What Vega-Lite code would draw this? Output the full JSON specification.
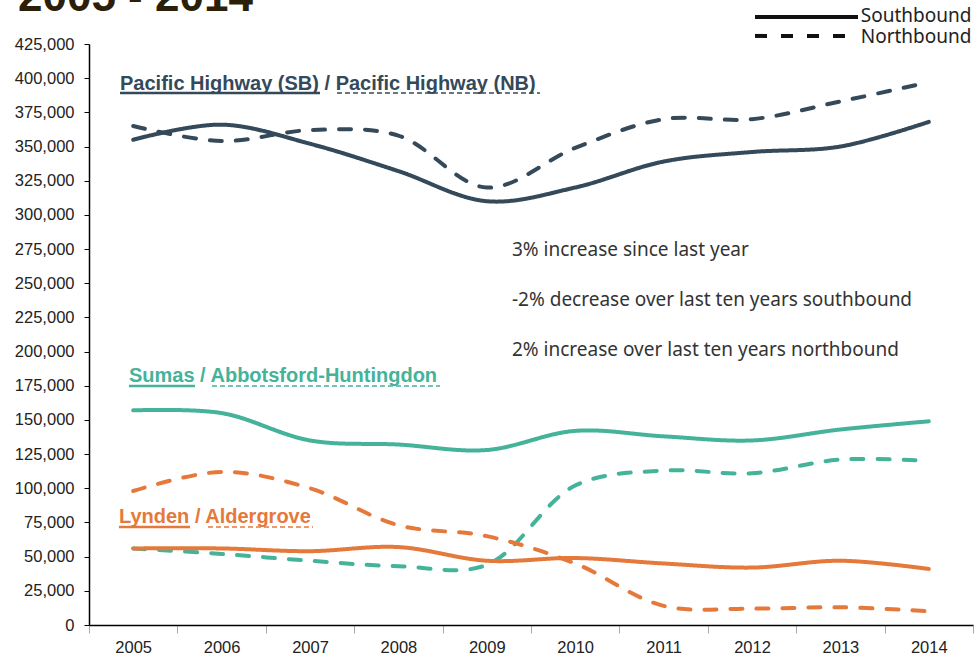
{
  "$schema": "https://vega.github.io/schema/vega-lite/v6.json",
  "width": 884,
  "height": 581,
  "autosize": {"type": "none"},
  "padding": {"left": 89, "top": 44, "right": 1, "bottom": 31},
  "background": "white",
  "title": {"text": "2005 - 2014", "anchor": "start", "frame": "group", "fontSize": 44, "fontWeight": "bold", "font": "Liberation Sans", "color": "#2B1F0A", "dx": -71, "offset": 0, "baseline": "alphabetic", "dy": 48},
  "config": {"view": {"stroke": null}, "axis": {"grid": false}},
  "datasets": {
    "traffic": [
      {"crossing": "Pacific Highway", "direction": "Southbound", "year": 2005, "value": 355000},
      {"crossing": "Pacific Highway", "direction": "Southbound", "year": 2006, "value": 366000},
      {"crossing": "Pacific Highway", "direction": "Southbound", "year": 2007, "value": 352000},
      {"crossing": "Pacific Highway", "direction": "Southbound", "year": 2008, "value": 332000},
      {"crossing": "Pacific Highway", "direction": "Southbound", "year": 2009, "value": 310000},
      {"crossing": "Pacific Highway", "direction": "Southbound", "year": 2010, "value": 320000},
      {"crossing": "Pacific Highway", "direction": "Southbound", "year": 2011, "value": 339000},
      {"crossing": "Pacific Highway", "direction": "Southbound", "year": 2012, "value": 346000},
      {"crossing": "Pacific Highway", "direction": "Southbound", "year": 2013, "value": 350000},
      {"crossing": "Pacific Highway", "direction": "Southbound", "year": 2014, "value": 368000},
      {"crossing": "Pacific Highway", "direction": "Northbound", "year": 2005, "value": 365000},
      {"crossing": "Pacific Highway", "direction": "Northbound", "year": 2006, "value": 354000},
      {"crossing": "Pacific Highway", "direction": "Northbound", "year": 2007, "value": 362000},
      {"crossing": "Pacific Highway", "direction": "Northbound", "year": 2008, "value": 358000},
      {"crossing": "Pacific Highway", "direction": "Northbound", "year": 2009, "value": 320000},
      {"crossing": "Pacific Highway", "direction": "Northbound", "year": 2010, "value": 349000},
      {"crossing": "Pacific Highway", "direction": "Northbound", "year": 2011, "value": 370000},
      {"crossing": "Pacific Highway", "direction": "Northbound", "year": 2012, "value": 370000},
      {"crossing": "Pacific Highway", "direction": "Northbound", "year": 2013, "value": 383000},
      {"crossing": "Pacific Highway", "direction": "Northbound", "year": 2014, "value": 397000},
      {"crossing": "Sumas", "direction": "Southbound", "year": 2005, "value": 157000},
      {"crossing": "Sumas", "direction": "Southbound", "year": 2006, "value": 155000},
      {"crossing": "Sumas", "direction": "Southbound", "year": 2007, "value": 135000},
      {"crossing": "Sumas", "direction": "Southbound", "year": 2008, "value": 132000},
      {"crossing": "Sumas", "direction": "Southbound", "year": 2009, "value": 128000},
      {"crossing": "Sumas", "direction": "Southbound", "year": 2010, "value": 142000},
      {"crossing": "Sumas", "direction": "Southbound", "year": 2011, "value": 138000},
      {"crossing": "Sumas", "direction": "Southbound", "year": 2012, "value": 135000},
      {"crossing": "Sumas", "direction": "Southbound", "year": 2013, "value": 143000},
      {"crossing": "Sumas", "direction": "Southbound", "year": 2014, "value": 149000},
      {"crossing": "Sumas", "direction": "Northbound", "year": 2005, "value": 56000},
      {"crossing": "Sumas", "direction": "Northbound", "year": 2006, "value": 52000},
      {"crossing": "Sumas", "direction": "Northbound", "year": 2007, "value": 47000},
      {"crossing": "Sumas", "direction": "Northbound", "year": 2008, "value": 43000},
      {"crossing": "Sumas", "direction": "Northbound", "year": 2009, "value": 44000},
      {"crossing": "Sumas", "direction": "Northbound", "year": 2010, "value": 102000},
      {"crossing": "Sumas", "direction": "Northbound", "year": 2011, "value": 113000},
      {"crossing": "Sumas", "direction": "Northbound", "year": 2012, "value": 111000},
      {"crossing": "Sumas", "direction": "Northbound", "year": 2013, "value": 121000},
      {"crossing": "Sumas", "direction": "Northbound", "year": 2014, "value": 120000},
      {"crossing": "Lynden", "direction": "Southbound", "year": 2005, "value": 56000},
      {"crossing": "Lynden", "direction": "Southbound", "year": 2006, "value": 56000},
      {"crossing": "Lynden", "direction": "Southbound", "year": 2007, "value": 54000},
      {"crossing": "Lynden", "direction": "Southbound", "year": 2008, "value": 57000},
      {"crossing": "Lynden", "direction": "Southbound", "year": 2009, "value": 47000},
      {"crossing": "Lynden", "direction": "Southbound", "year": 2010, "value": 49000},
      {"crossing": "Lynden", "direction": "Southbound", "year": 2011, "value": 45000},
      {"crossing": "Lynden", "direction": "Southbound", "year": 2012, "value": 42000},
      {"crossing": "Lynden", "direction": "Southbound", "year": 2013, "value": 47000},
      {"crossing": "Lynden", "direction": "Southbound", "year": 2014, "value": 41000},
      {"crossing": "Lynden", "direction": "Northbound", "year": 2005, "value": 98000},
      {"crossing": "Lynden", "direction": "Northbound", "year": 2006, "value": 112000},
      {"crossing": "Lynden", "direction": "Northbound", "year": 2007, "value": 100000},
      {"crossing": "Lynden", "direction": "Northbound", "year": 2008, "value": 73000},
      {"crossing": "Lynden", "direction": "Northbound", "year": 2009, "value": 65000},
      {"crossing": "Lynden", "direction": "Northbound", "year": 2010, "value": 45000},
      {"crossing": "Lynden", "direction": "Northbound", "year": 2011, "value": 14000},
      {"crossing": "Lynden", "direction": "Northbound", "year": 2012, "value": 12000},
      {"crossing": "Lynden", "direction": "Northbound", "year": 2013, "value": 13000},
      {"crossing": "Lynden", "direction": "Northbound", "year": 2014, "value": 10000}
    ],
    "labels": [
      {"group": "Pacific Highway", "role": "series", "xq": 2004.851, "value": 396000, "text": "Pacific Highway (SB) / Pacific Highway (NB)"},
      {"group": "Sumas", "role": "series", "xq": 2004.952, "value": 182000, "text": "Sumas / Abbotsford-Huntingdon"},
      {"group": "Lynden", "role": "series", "xq": 2004.839, "value": 79000, "text": "Lynden / Aldergrove"},
      {"group": "note", "role": "note", "xq": 2009.285, "value": 274000, "text": "3% increase since last year"},
      {"group": "note", "role": "note", "xq": 2009.285, "value": 238000, "text": "-2% decrease over last ten years southbound"},
      {"group": "note", "role": "note", "xq": 2009.285, "value": 201500, "text": "2% increase over last ten years northbound"},
      {"group": "legend", "role": "note", "xq": 2013.23, "value": 445500, "text": "Southbound"},
      {"group": "legend", "role": "note", "xq": 2013.23, "value": 430000, "text": "Northbound"}
    ],
    "rules": [
      {"group": "Pacific Highway", "role": "underline", "direction": "Southbound", "xq": 2004.851, "xq2": 2007.113, "value": 389200},
      {"group": "Pacific Highway", "role": "underline", "direction": "Northbound", "xq": 2007.305, "xq2": 2009.602, "value": 389200},
      {"group": "Sumas", "role": "underline", "direction": "Southbound", "xq": 2004.952, "xq2": 2005.699, "value": 174900},
      {"group": "Sumas", "role": "underline", "direction": "Northbound", "xq": 2005.891, "xq2": 2008.471, "value": 174900},
      {"group": "Lynden", "role": "underline", "direction": "Southbound", "xq": 2004.839, "xq2": 2005.643, "value": 71700},
      {"group": "Lynden", "role": "underline", "direction": "Northbound", "xq": 2005.846, "xq2": 2007.034, "value": 71700},
      {"group": "legend", "role": "legend", "direction": "Southbound", "xq": 2012.034, "xq2": 2013.199, "value": 444800},
      {"group": "legend", "role": "legend", "direction": "Northbound", "xq": 2012.034, "xq2": 2013.199, "value": 430900}
    ]
  },
  "layer": [
    {
      "data": {"name": "traffic"},
      "mark": {"type": "line", "interpolate": "catmull-rom", "strokeWidth": 4, "strokeCap": "round"},
      "encoding": {
        "x": {"field": "year", "type": "ordinal", "scale": {"type": "band", "paddingInner": 0, "paddingOuter": 0},
          "axis": {"title": null, "tickBand": "extent", "labelAngle": 0, "tickSize": 8, "tickColor": "#aaa", "domainColor": "#000", "domainWidth": 1.5, "labelFontSize": 16.5, "labelFont": "Liberation Sans", "labelColor": "#222", "labelPadding": 6}},
        "y": {"field": "value", "type": "quantitative", "scale": {"domain": [0, 425000], "nice": false, "zero": true},
          "axis": {"title": null, "values": [0, 25000, 50000, 75000, 100000, 125000, 150000, 175000, 200000, 225000, 250000, 275000, 300000, 325000, 350000, 375000, 400000, 425000], "format": ",", "labelExpr": "format(datum.value, ',')", "labelOverlap": false, "tickSize": 5, "tickColor": "#000", "domainColor": "#000", "domainWidth": 1.5, "labelFontSize": 16.5, "labelFont": "Liberation Sans", "labelColor": "#222", "labelPadding": 10}},
        "color": {"field": "crossing", "type": "nominal", "scale": {"domain": ["Pacific Highway", "Sumas", "Lynden", "note", "legend"], "range": ["#34495A", "#45B39A", "#E5793B", "#333333", "#222222"]}, "legend": null},
        "strokeDash": {"field": "direction", "type": "nominal", "scale": {"domain": ["Southbound", "Northbound"], "range": [[1, 0], [12, 14]]}, "legend": null},
        "detail": {"field": "direction"}
      }
    },
    {
      "data": {"name": "labels"},
      "transform": [{"filter": "datum.role === 'series'"}],
      "mark": {"type": "text", "align": "left", "baseline": "middle", "font": "Liberation Sans", "fontWeight": "bold", "fontSize": 20},
      "encoding": {
        "x": {"field": "xq", "type": "quantitative", "scale": {"domain": [2004.5, 2014.5], "nice": false, "zero": false}, "axis": null},
        "y": {"field": "value", "type": "quantitative", "axis": {"title": null, "values": [0, 25000, 50000, 75000, 100000, 125000, 150000, 175000, 200000, 225000, 250000, 275000, 300000, 325000, 350000, 375000, 400000, 425000], "format": ",", "labelExpr": "format(datum.value, ',')", "labelOverlap": false}},
        "color": {"field": "group", "type": "nominal", "legend": null},
        "text": {"field": "text"}
      }
    },
    {
      "data": {"name": "labels"},
      "transform": [{"filter": "datum.role === 'note'"}],
      "mark": {"type": "text", "align": "left", "baseline": "middle", "font": "Noto Sans", "fontSize": 19},
      "encoding": {
        "x": {"field": "xq", "type": "quantitative", "scale": {"domain": [2004.5, 2014.5], "nice": false, "zero": false}, "axis": null},
        "y": {"field": "value", "type": "quantitative", "axis": {"title": null, "values": [0, 25000, 50000, 75000, 100000, 125000, 150000, 175000, 200000, 225000, 250000, 275000, 300000, 325000, 350000, 375000, 400000, 425000], "format": ",", "labelExpr": "format(datum.value, ',')", "labelOverlap": false}},
        "color": {"field": "group", "type": "nominal", "legend": null},
        "text": {"field": "text"}
      }
    },
    {
      "data": {"name": "rules"},
      "transform": [{"filter": "datum.role === 'underline' && datum.direction === 'Southbound'"}],
      "mark": {"type": "rule", "strokeWidth": 2.5},
      "encoding": {
        "x": {"field": "xq", "type": "quantitative", "scale": {"domain": [2004.5, 2014.5], "nice": false, "zero": false}, "axis": null},
        "x2": {"field": "xq2"},
        "y": {"field": "value", "type": "quantitative", "axis": {"title": null, "values": [0, 25000, 50000, 75000, 100000, 125000, 150000, 175000, 200000, 225000, 250000, 275000, 300000, 325000, 350000, 375000, 400000, 425000], "format": ",", "labelExpr": "format(datum.value, ',')", "labelOverlap": false}},
        "color": {"field": "group", "type": "nominal", "legend": null}
      }
    },
    {
      "data": {"name": "rules"},
      "transform": [{"filter": "datum.role === 'underline' && datum.direction === 'Northbound'"}],
      "mark": {"type": "rule", "strokeWidth": 1.5, "strokeDash": [5, 3]},
      "encoding": {
        "x": {"field": "xq", "type": "quantitative", "scale": {"domain": [2004.5, 2014.5], "nice": false, "zero": false}, "axis": null},
        "x2": {"field": "xq2"},
        "y": {"field": "value", "type": "quantitative", "axis": {"title": null, "values": [0, 25000, 50000, 75000, 100000, 125000, 150000, 175000, 200000, 225000, 250000, 275000, 300000, 325000, 350000, 375000, 400000, 425000], "format": ",", "labelExpr": "format(datum.value, ',')", "labelOverlap": false}},
        "color": {"field": "group", "type": "nominal", "legend": null}
      }
    },
    {
      "data": {"name": "rules"},
      "transform": [{"filter": "datum.role === 'legend'"}],
      "mark": {"type": "rule", "strokeWidth": 4, "color": "#111111"},
      "encoding": {
        "x": {"field": "xq", "type": "quantitative", "scale": {"domain": [2004.5, 2014.5], "nice": false, "zero": false}, "axis": null},
        "x2": {"field": "xq2"},
        "y": {"field": "value", "type": "quantitative", "axis": {"title": null, "values": [0, 25000, 50000, 75000, 100000, 125000, 150000, 175000, 200000, 225000, 250000, 275000, 300000, 325000, 350000, 375000, 400000, 425000], "format": ",", "labelExpr": "format(datum.value, ',')", "labelOverlap": false}},
        "strokeDash": {"field": "direction", "type": "nominal", "scale": {"domain": ["Southbound", "Northbound"], "range": [[1, 0], [12, 14]]}, "legend": null}
      }
    }
  ],
  "resolve": {"scale": {"x": "independent"}}
}
